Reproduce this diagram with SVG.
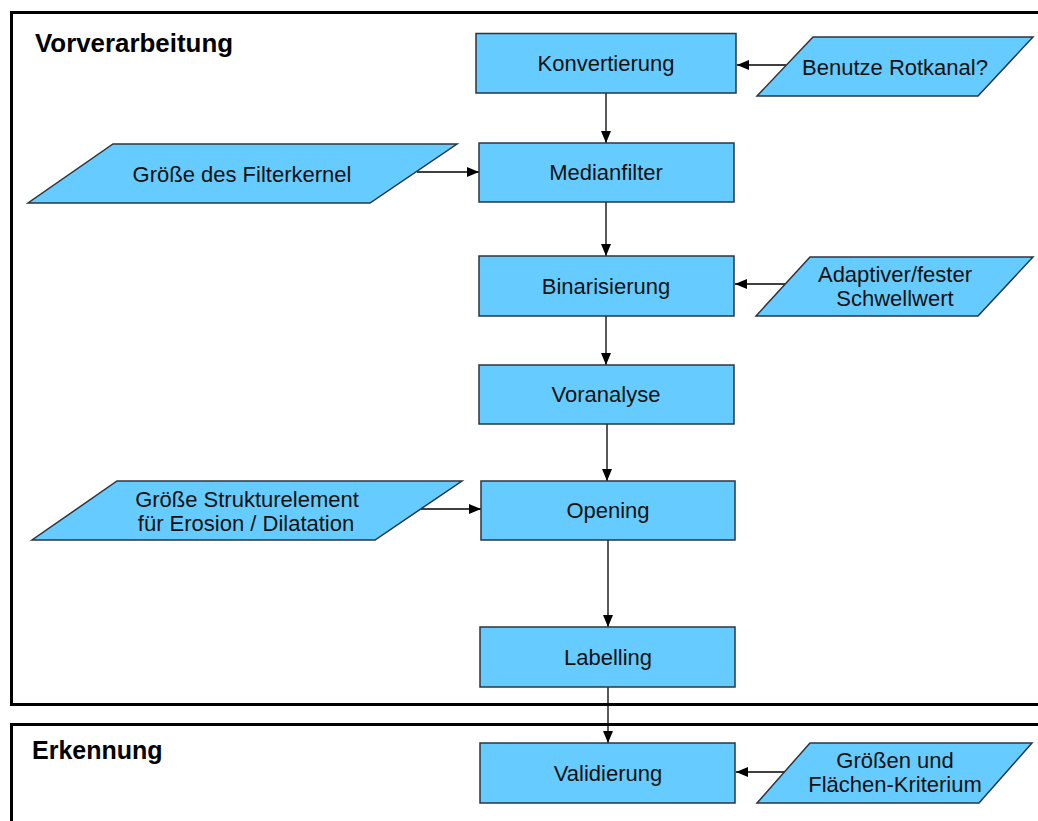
<svg xmlns="http://www.w3.org/2000/svg" width="1038" height="821" viewBox="0 0 1038 821">
<defs>
<marker id="ah" markerUnits="userSpaceOnUse" markerWidth="12" markerHeight="10" viewBox="0 0 12 10" refX="12" refY="5" orient="auto">
<path d="M0,0 L12,5 L0,10 Z" fill="#000"/>
</marker>
<style>
.frame{fill:none;stroke:#000;stroke-width:3}
.proc{fill:#66CCFF;stroke:#2b3540;stroke-width:1.5}
.io{fill:#66CCFF;stroke:#2b3540;stroke-width:1.5}
.t{font-family:"Liberation Sans",Arial,sans-serif;font-size:22px;fill:#111;text-anchor:middle}
.h{font-family:"Liberation Sans",Arial,sans-serif;font-size:25px;font-weight:bold;fill:#000}
.c{fill:none;stroke:#000;stroke-width:1.3;marker-end:url(#ah)}
</style>
</defs>
<rect width="1038" height="821" fill="#fff"/>
<g id="frame-vorverarbeitung">
<rect class="frame" x="11.5" y="12.5" width="1040" height="692"/>
<text class="h" x="35" y="52" textLength="198" lengthAdjust="spacingAndGlyphs">Vorverarbeitung</text>
</g>
<g id="frame-erkennung">
<rect class="frame" x="11.5" y="724.5" width="1040" height="120"/>
<text class="h" x="32" y="759">Erkennung</text>
</g>
<g id="connectors">
<line class="c" x1="606" y1="93" x2="606" y2="143"/>
<line class="c" x1="606" y1="202" x2="606" y2="256"/>
<line class="c" x1="606" y1="316" x2="606" y2="365"/>
<line class="c" x1="607" y1="424" x2="607" y2="481"/>
<line class="c" x1="608" y1="540" x2="608" y2="627"/>
<line class="c" x1="608" y1="687" x2="608" y2="743"/>
<line class="c" x1="786" y1="65" x2="737" y2="65"/>
<line class="c" x1="417" y1="172" x2="479" y2="172"/>
<line class="c" x1="786" y1="284" x2="735" y2="284"/>
<line class="c" x1="421" y1="509" x2="481" y2="509"/>
<line class="c" x1="786" y1="772" x2="736" y2="772"/>
</g>
<g id="konvertierung">
<rect class="proc" x="476" y="33.5" width="260" height="59.5"/>
<text class="t" x="606" y="71">Konvertierung</text>
</g>
<g id="benutze-rotkanal">
<polygon class="io" points="813,37 1033,37 978,96 757,96"/>
<text class="t" x="895" y="75">Benutze Rotkanal?</text>
</g>
<g id="medianfilter">
<rect class="proc" x="479" y="143" width="255" height="59"/>
<text class="t" x="606" y="180">Medianfilter</text>
</g>
<g id="filterkernel">
<polygon class="io" points="113,144 457,144 370,203 28,203"/>
<text class="t" x="242" y="182">Größe des Filterkernel</text>
</g>
<g id="binarisierung">
<rect class="proc" x="479" y="256" width="255" height="60"/>
<text class="t" x="606" y="294">Binarisierung</text>
</g>
<g id="schwellwert">
<polygon class="io" points="810,257 1033,257 978,316 756,316"/>
<text class="t" x="895" y="282">Adaptiver/fester</text>
<text class="t" x="895" y="306">Schwellwert</text>
</g>
<g id="voranalyse">
<rect class="proc" x="479" y="365" width="255" height="59"/>
<text class="t" x="606" y="402">Voranalyse</text>
</g>
<g id="opening">
<rect class="proc" x="481" y="481" width="254" height="59"/>
<text class="t" x="608" y="518">Opening</text>
</g>
<g id="strukturelement">
<polygon class="io" points="117,481 462,481 375,540 32,540"/>
<text class="t" x="247" y="507">Größe Strukturelement</text>
<text class="t" x="246" y="531">für Erosion / Dilatation</text>
</g>
<g id="labelling">
<rect class="proc" x="480" y="627" width="255" height="60"/>
<text class="t" x="608" y="665">Labelling</text>
</g>
<g id="validierung">
<rect class="proc" x="480" y="743" width="255" height="60"/>
<text class="t" x="608" y="781">Validierung</text>
</g>
<g id="kriterium">
<polygon class="io" points="810,743 1032,743 979,803 757,803"/>
<text class="t" x="895" y="768">Größen und</text>
<text class="t" x="895" y="792">Flächen-Kriterium</text>
</g>
</svg>
